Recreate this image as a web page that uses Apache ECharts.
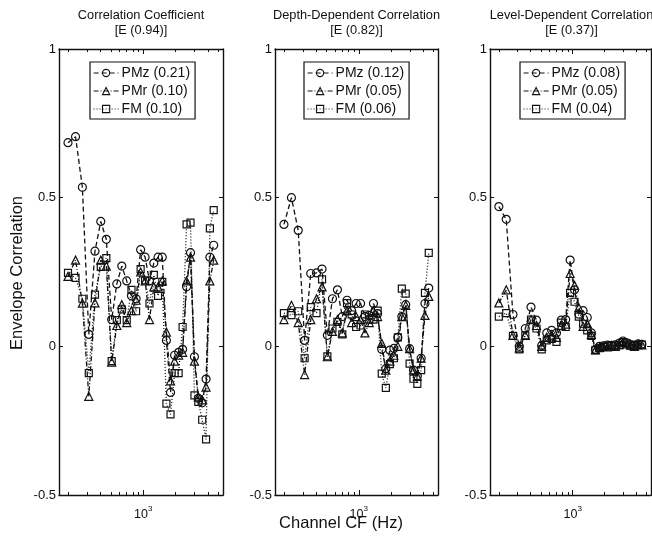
<!DOCTYPE html>
<html><head><meta charset="utf-8">
<script src="https://cdn.jsdelivr.net/npm/echarts@6/dist/echarts.min.js"></script>
<style>html,body{margin:0;padding:0;background:#fff}#c{width:652px;height:536px}</style>
</head><body><div id="c"></div>
<script>
// Channel centre frequencies (Hz)
const channelCF = [200, 235, 272, 312, 356, 403, 454, 509, 568, 632, 702, 777, 858, 945, 1040, 1142, 1253, 1372, 1501, 1640, 1791, 1954, 2130, 2319, 2525, 2746, 2986, 3245, 3526, 3828, 4155, 4508];

const panelTitles = ['Correlation Coefficient', 'Depth-Dependent Correlation', 'Level-Dependent Correlation'];
const panelSubtitles = ['[E (0.94)]', '[E (0.82)]', '[E (0.37)]'];
const legendNames = [
  ['PMz (0.21)', 'PMr (0.10)', 'FM (0.10)'],
  ['PMz (0.12)', 'PMr (0.05)', 'FM (0.06)'],
  ['PMz (0.08)', 'PMr (0.05)', 'FM (0.04)']
];

// Panel 1: Correlation Coefficient
const ccPMz = [0.685, 0.705, 0.535, 0.04, 0.32, 0.42, 0.36, 0.09, 0.21, 0.27, 0.22, 0.17, 0.16, 0.325, 0.30, 0.22, 0.28, 0.30, 0.30, 0.02, -0.155, -0.03, -0.02, -0.01, 0.20, 0.315, -0.035, -0.175, -0.19, -0.11, 0.30, 0.34];
const ccPMr = [0.235, 0.29, 0.145, -0.168, 0.146, 0.29, 0.27, -0.053, 0.07, 0.14, 0.08, 0.12, 0.155, 0.25, 0.22, 0.09, 0.20, 0.20, 0.22, 0.048, -0.116, -0.05, -0.03, -0.02, 0.22, 0.30, -0.05, -0.17, -0.18, -0.137, 0.22, 0.29];
const ccFM  = [0.247, 0.23, 0.16, -0.09, 0.174, 0.267, 0.297, -0.05, 0.088, 0.124, 0.088, 0.19, 0.118, 0.26, 0.222, 0.144, 0.24, 0.17, 0.217, -0.193, -0.229, -0.09, -0.09, 0.065, 0.41, 0.416, -0.165, -0.187, -0.247, -0.313, 0.397, 0.458];

// Panel 2: Depth-Dependent Correlation
const ddPMz = [0.41, 0.50, 0.39, 0.02, 0.245, 0.247, 0.26, 0.037, 0.16, 0.19, 0.10, 0.155, 0.12, 0.144, 0.144, 0.10, 0.104, 0.144, 0.11, -0.01, -0.075, -0.013, -0.007, 0.03, 0.10, 0.14, -0.008, -0.08, -0.10, -0.04, 0.144, 0.196];
const ddPMr = [0.09, 0.138, 0.08, -0.095, 0.09, 0.16, 0.20, -0.035, 0.05, 0.09, 0.045, 0.12, 0.08, 0.10, 0.09, 0.045, 0.08, 0.12, 0.10, 0.01, -0.08, -0.05, -0.03, 0.0, 0.10, 0.138, -0.008, -0.08, -0.10, -0.04, 0.104, 0.168];
const ddFM  = [0.112, 0.105, 0.118, -0.04, 0.132, 0.112, 0.225, -0.034, 0.06, 0.082, 0.04, 0.145, 0.107, 0.065, 0.07, 0.107, 0.09, 0.09, 0.12, -0.092, -0.14, -0.06, -0.04, 0.03, 0.194, 0.177, -0.058, -0.109, -0.126, -0.08, 0.18, 0.314];

// Panel 3: Level-Dependent Correlation
const ldPMz = [0.47, 0.427, 0.107, 0.0, 0.06, 0.132, 0.088, 0.003, 0.045, 0.054, 0.045, 0.088, 0.09, 0.29, 0.19, 0.108, 0.12, 0.097, 0.045, -0.01, 0.0, 0.002, 0.004, 0.003, 0.005, 0.01, 0.018, 0.012, 0.006, 0.004, 0.008, 0.007];
const ldPMr = [0.146, 0.19, 0.037, -0.005, 0.037, 0.09, 0.07, 0.0, 0.03, 0.035, 0.03, 0.07, 0.075, 0.245, 0.205, 0.13, 0.067, 0.076, 0.04, -0.012, -0.004, 0.0, -0.002, 0.002, 0.0, 0.006, 0.012, 0.008, 0.004, 0.0, 0.006, 0.005];
const ldFM  = [0.10, 0.112, 0.035, -0.01, 0.037, 0.09, 0.06, -0.01, 0.02, 0.025, 0.015, 0.08, 0.065, 0.18, 0.15, 0.10, 0.076, 0.054, 0.035, -0.013, -0.006, -0.002, 0.0, 0.002, 0.0, 0.004, 0.014, 0.01, 0.003, 0.0, 0.004, 0.006];

const xMajorTicks = [1000];
const xMinorTicks = [200, 300, 400, 500, 600, 700, 800, 900, 2000, 3000, 4000, 5000];
const xRange = [165, 5500];
const yRange = [-0.5, 1];
const yStep = 0.5;

const panelData = [[ccPMz, ccPMr, ccFM], [ddPMz, ddPMr, ddFM], [ldPMz, ldPMr, ldFM]];

const FONT = '"Liberation Sans", Arial, Helvetica, sans-serif';
const BLACK = '#111';

const grids = [
  {left: 59, top: 49, width: 164, height: 446},
  {left: 275, top: 49, width: 163, height: 446},
  {left: 490, top: 49, width: 161, height: 446}
];
const legendLeft = [90, 304, 520];

const seriesStyles = [
  {symbol: 'circle', symbolSize: 8, dash: [5, 3]},
  {symbol: 'triangle', symbolSize: 8, dash: [5, 2, 1, 2]},
  {symbol: 'rect', symbolSize: 7, dash: [1, 2]}
];

const xAxes = [], yAxes = [], series = [], legends = [], graphics = [];
grids.forEach((g, i) => {
  const base = {gridIndex: i, type: 'log', logBase: 10, min: xRange[0], max: xRange[1], splitLine: {show: false}, minorTick: {show: false}};
  const tickLine = {color: BLACK, width: 1};
  xAxes.push(Object.assign({}, base, {
    position: 'bottom',
    axisLine: {show: true, onZero: false, lineStyle: {color: BLACK, width: 1.4}},
    axisTick: {show: true, inside: true, length: 5, customValues: xMajorTicks, lineStyle: tickLine},
    axisLabel: {show: true, customValues: xMajorTicks, margin: 10,
      formatter: () => '{a|10}{b|3}',
      rich: {a: {fontSize: 12.5, fontFamily: FONT, color: BLACK, lineHeight: 16, verticalAlign: 'bottom'},
             b: {fontSize: 8, fontFamily: FONT, color: BLACK, lineHeight: 16, verticalAlign: 'top'}}}
  }));
  xAxes.push(Object.assign({}, base, {
    position: 'bottom', axisLine: {show: false, onZero: false},
    axisTick: {show: true, inside: true, length: 3, customValues: xMinorTicks, lineStyle: tickLine},
    axisLabel: {show: false}
  }));
  xAxes.push(Object.assign({}, base, {
    position: 'top', axisLine: {show: true, onZero: false, lineStyle: {color: BLACK, width: 1.4}},
    axisTick: {show: true, inside: true, length: 5, customValues: xMajorTicks, lineStyle: tickLine},
    axisLabel: {show: false}
  }));
  xAxes.push(Object.assign({}, base, {
    position: 'top', axisLine: {show: false, onZero: false},
    axisTick: {show: true, inside: true, length: 3, customValues: xMinorTicks, lineStyle: tickLine},
    axisLabel: {show: false}
  }));

  const ybase = {gridIndex: i, type: 'value', min: yRange[0], max: yRange[1], interval: yStep, splitLine: {show: false}};
  yAxes.push(Object.assign({}, ybase, {
    position: 'left', axisLine: {show: true, onZero: false, lineStyle: {color: BLACK, width: 1.4}},
    axisTick: {show: true, inside: true, length: 4, lineStyle: tickLine},
    axisLabel: {show: true, margin: 3, fontSize: 13, fontFamily: FONT, color: BLACK}
  }));
  yAxes.push(Object.assign({}, ybase, {
    position: 'right', axisLine: {show: true, onZero: false, lineStyle: {color: BLACK, width: 1.4}},
    axisTick: {show: true, inside: true, length: 4, lineStyle: tickLine},
    axisLabel: {show: false}
  }));

  panelData[i].forEach((vals, k) => {
    const st = seriesStyles[k];
    series.push({
      type: 'line', name: legendNames[i][k], xAxisIndex: i * 4, yAxisIndex: i * 2,
      data: channelCF.map((f, j) => [f, vals[j]]),
      symbol: st.symbol, symbolSize: st.symbolSize, showAllSymbol: true,
      lineStyle: {color: BLACK, width: 1.3, type: st.dash},
      itemStyle: {color: 'rgba(255,255,255,0)', borderColor: BLACK, borderWidth: 1.2},
      emphasis: {disabled: true}, silent: true, z: 3 - k
    });
  });

  legends.push({
    left: legendLeft[i], top: 62, orient: 'vertical',
    data: legendNames[i], itemWidth: 25, itemHeight: 9, itemGap: 4,
    borderColor: BLACK, borderWidth: 1.2, padding: [4, 5, 3, 3],
    backgroundColor: '#fff', selectedMode: false,
    itemStyle: {color: 'rgba(255,255,255,0)', borderColor: BLACK, borderWidth: 1.1},
    lineStyle: {width: 1.2},
    textStyle: {fontSize: 14, fontFamily: FONT, color: BLACK, padding: [0, 0, 0, -2]}
  });

  const cx = g.left + g.width / 2 + (i === 2 ? 1 : 0);
  graphics.push({type: 'text', x: cx, y: 8, style: {text: panelTitles[i] + '\n' + panelSubtitles[i], textAlign: 'center', textVerticalAlign: 'top', fontSize: 12.8, lineHeight: 15, fontFamily: FONT, fill: BLACK}});
});

graphics.push({type: 'text', x: 17, y: 273, rotation: Math.PI / 2, style: {text: 'Envelope Correlation', textAlign: 'center', textVerticalAlign: 'middle', fontSize: 16.5, fontFamily: FONT, fill: BLACK}});
graphics.push({type: 'text', x: 341, y: 523, style: {text: 'Channel CF (Hz)', textAlign: 'center', textVerticalAlign: 'middle', fontSize: 16.5, fontFamily: FONT, fill: BLACK}});

const chart = echarts.init(document.getElementById('c'), null, {renderer: 'canvas'});
chart.setOption({
  animation: false,
  backgroundColor: '#fff',
  grid: grids,
  xAxis: xAxes,
  yAxis: yAxes,
  legend: legends,
  series: series,
  graphic: graphics
});
</script></body></html>
